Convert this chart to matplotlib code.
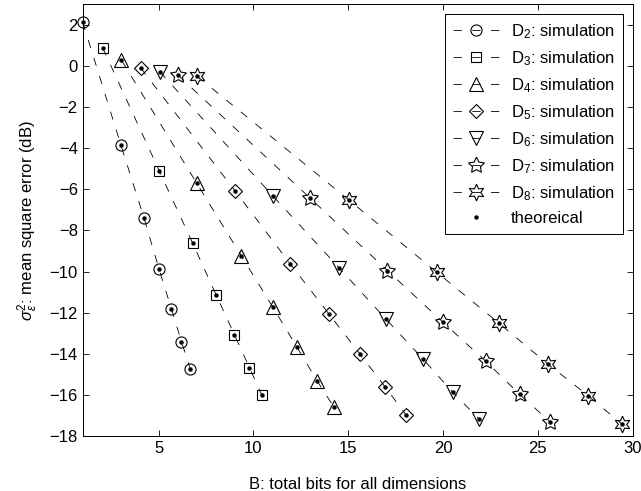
import numpy as np
import matplotlib.pyplot as plt

plt.rcParams['font.family'] = ['Liberation Sans', 'DejaVu Sans']
plt.rcParams['mathtext.fontset'] = 'custom'
plt.rcParams['mathtext.rm'] = 'Liberation Sans'
plt.rcParams['mathtext.it'] = 'Liberation Sans:italic'
plt.rcParams['lines.scale_dashes'] = False

# bits B and mse (dB) for each D
x_d2 = [1.0, 3.02, 4.23, 5.03, 5.68, 6.21, 6.68]
y_d2 = [2.14, -3.86, -7.38, -9.89, -11.82, -13.41, -14.75]
x_d3 = [2.05, 5.05, 6.8, 8.04, 9.0, 9.79, 10.44]
y_d3 = [0.89, -5.12, -8.62, -11.14, -13.07, -14.67, -16.0]
x_d4 = [3.04, 7.02, 9.37, 11.02, 12.3, 13.35, 14.23]
y_d4 = [0.29, -5.71, -9.24, -11.72, -13.68, -15.3, -16.57]
x_d5 = [4.05, 9.04, 11.95, 14.0, 15.63, 16.96, 18.05]
y_d5 = [-0.08, -6.08, -9.63, -12.08, -14.02, -15.63, -16.97]
x_d6 = [5.07, 11.02, 14.54, 17.0, 18.96, 20.51, 21.88]
y_d6 = [-0.28, -6.31, -9.84, -12.32, -14.27, -15.87, -17.15]
x_d7 = [6.02, 13.0, 17.07, 19.98, 22.25, 24.05, 25.63]
y_d7 = [-0.44, -6.43, -9.95, -12.45, -14.36, -15.98, -17.3]
x_d8 = [7.04, 15.04, 19.67, 22.96, 25.54, 27.67, 29.42]
y_d8 = [-0.5, -6.52, -10.03, -12.52, -14.51, -16.05, -17.41]

xs = [x_d2, x_d3, x_d4, x_d5, x_d6, x_d7, x_d8]
ys = [y_d2, y_d3, y_d4, y_d5, y_d6, y_d7, y_d8]
labels = ['D$_%d$: simulation' % d for d in range(2, 9)]
markers = ['o', 's', '^', 'D', 'v', (5, 1, 0), (6, 1, 0)]
msizes = [8, 7.5, 10, 7, 10, 12, 12]

fig = plt.figure(figsize=(6.41, 4.91), dpi=100)
ax = fig.add_axes([0.129, 0.112, 0.858, 0.879])

for x, y, lab, m, ms in zip(xs, ys, labels, markers, msizes):
    ax.plot(x, y, color='black', linestyle=(0, (6, 7.5)), linewidth=0.6,
            marker=m, markersize=ms, markerfacecolor='none',
            markeredgecolor='black', markeredgewidth=0.8, label=lab,
            clip_on=False)

# theoretical values, drawn on top
for i, (x, y) in enumerate(zip(xs, ys)):
    ax.plot(x, y, linestyle='none', marker='o', markersize=2.2,
            color='black', label='theoreical' if i == 0 else None,
            clip_on=False)

ax.set_xlim(1, 30)
ax.set_ylim(-18, 3)
ax.set_xticks([5, 10, 15, 20, 25, 30])
ax.set_yticks(np.arange(-18, 3, 2))
ax.tick_params(direction='in', top=True, right=True, length=4, width=0.6, labelsize=12)
for s in ax.spines.values():
    s.set_linewidth(0.7)

ax.set_xlabel('B: total bits for all dimensions', fontsize=12, labelpad=15)
ax.set_ylabel(r'$\sigma^2_{\varepsilon}$: mean square error (dB)', fontsize=12, labelpad=7)

leg = ax.legend(loc='upper right', fontsize=12, handlelength=2.8, labelspacing=0.5,
                borderaxespad=0.6, fancybox=False, edgecolor='black', framealpha=1,
                handletextpad=0.7, borderpad=0.45)
leg.get_frame().set_linewidth(0.7)

plt.savefig('out.png', dpi=100)
